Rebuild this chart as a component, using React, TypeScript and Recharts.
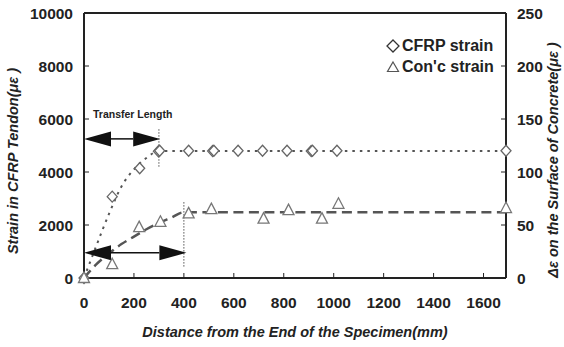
import { ComposedChart, Line, Scatter, XAxis, YAxis, ReferenceLine, Legend } from "recharts";

// distance from the end of the specimen (mm)
const distTicks = [0, 200, 400, 600, 800, 1000, 1200, 1400, 1600];
const strainTicks = [0, 2000, 4000, 6000, 8000, 10000];
const concTicks = [0, 50, 100, 150, 200, 250];

// measured points
const cfrpDist = [0, 113, 223, 298, 303, 419, 515, 520, 617, 715, 813, 910, 915, 1013, 1690];
const cfrpStrain = [0, 3070, 4140, 4780, 4800, 4800, 4790, 4800, 4800, 4800, 4800, 4790, 4800, 4800, 4800];

const concDist = [0, 113, 221, 306, 419, 510, 719, 819, 953, 1019, 1690];
const concStrain = [0, 13, 48, 53, 61, 65, 56, 64, 56, 70, 66];

// trend lines
const cfrpFitDist = [0, 50, 100, 150, 200, 250, 300, 1690];
const cfrpFitStrain = [0, 1230, 2420, 3450, 4100, 4530, 4790, 4790];
const concFitDist = [0, 50, 100, 150, 200, 250, 300, 350, 400, 1690];
const concFitStrain = [0, 13, 23, 32, 39, 46, 52, 57, 62, 62];

// transfer length annotations
const transferStrain = [5250, 950];
const transferEnd = [305, 410];
const transferMark = [300, 400];
const markLow = [4200, 430];
const markHigh = [5650, 2880];

const cfrp = cfrpDist.map((x, i) => ({ x, y: cfrpStrain[i] }));
const conc = concDist.map((x, i) => ({ x, y: concStrain[i] }));
const cfrpFit = cfrpFitDist.map((x, i) => ({ x, y: cfrpFitStrain[i] }));
const concFit = concFitDist.map((x, i) => ({ x, y: concFitStrain[i] }));

const FONT = "Arial, 'Liberation Sans', sans-serif";
const INK = "#222";
const tickStyle = { fontFamily: FONT, fontSize: 15.5, fontWeight: 700, fill: INK };

const Diamond = ({ cx, cy }: any) => (
  <polygon
    points={`${cx},${cy - 5.5} ${cx + 5},${cy} ${cx},${cy + 5.5} ${cx - 5},${cy}`}
    fill="#fff"
    stroke="#666"
    strokeWidth={1.3}
  />
);

const Triangle = ({ cx, cy }: any) => (
  <polygon
    points={`${cx},${cy - 6} ${cx + 5.5},${cy + 4.5} ${cx - 5.5},${cy + 4.5}`}
    fill="#fff"
    stroke="#777"
    strokeWidth={1.3}
  />
);

const Arrow = ({ x1, y1, x2, y2, title }: any) => {
  const L = 27;
  const H = 7.5;
  return (
    <g>
      <line x1={x1 + L} y1={y1} x2={x2 - L} y2={y2} stroke="#111" strokeWidth={1.5} />
      <polygon points={`${x1},${y1} ${x1 + L},${y1 - H} ${x1 + L},${y1 + H}`} fill="#111" />
      <polygon points={`${x2},${y2} ${x2 - L},${y2 - H} ${x2 - L},${y2 + H}`} fill="#111" />
      {title && (
        <text x={x1 + 9} y={y1 - 21} fontFamily={FONT} fontSize={10.5} fontWeight={700} fill={INK}>
          {title}
        </text>
      )}
    </g>
  );
};

const LegendBox = () => (
  <div style={{ fontFamily: FONT, fontSize: 16, fontWeight: 700, color: INK, lineHeight: "21px" }}>
    <div style={{ display: "flex", alignItems: "center" }}>
      <svg width={18} height={14}>
        <polygon points="9,1 15,7 9,13 3,7" fill="#fff" stroke="#333" strokeWidth={1.3} />
      </svg>
      <span>CFRP strain</span>
    </div>
    <div style={{ display: "flex", alignItems: "center" }}>
      <svg width={18} height={14}>
        <polygon points="9,2 14.5,11.5 3.5,11.5" fill="#fff" stroke="#555" strokeWidth={1.2} />
      </svg>
      <span>Con'c strain</span>
    </div>
  </div>
);

const titleStyle = { fontFamily: FONT, fontSize: 14.5, fontWeight: 700, fontStyle: "italic" as const, fill: INK };

export default function App() {
  return (
    <div style={{ position: "absolute", left: 0, top: 0, background: "#fff" }}>
      <ComposedChart width={564} height={347} margin={{ top: 13, right: 0, bottom: 0, left: 0 }}>
        <XAxis
          dataKey="x"
          type="number"
          domain={[0, 1690]}
          ticks={distTicks}
          interval={0}
          height={69}
          tick={tickStyle}
          tickSize={-5}
          tickMargin={24}
          axisLine={{ stroke: INK, strokeWidth: 2 }}
          tickLine={{ stroke: INK }}
          label={({ viewBox }: any) => (
            <text
              x={viewBox.x + viewBox.width / 2}
              y={332}
              textAnchor="middle"
              dominantBaseline="central"
              {...titleStyle}
            >
              Distance from the End of the Specimen(mm)
            </text>
          )}
        />
        <YAxis
          yAxisId="l"
          domain={[0, 10000]}
          ticks={strainTicks}
          interval={0}
          width={84}
          tick={tickStyle}
          tickSize={-5}
          tickMargin={16}
          axisLine={{ stroke: INK, strokeWidth: 2 }}
          tickLine={{ stroke: INK }}
          label={() => {
            const x = 13;
            const y = 161;
            return (
              <text x={x} y={y} transform={`rotate(-90 ${x} ${y})`} textAnchor="middle" dominantBaseline="central" {...titleStyle}>
                Strain in CFRP Tendon(με )
              </text>
            );
          }}
        />
        <YAxis
          yAxisId="r"
          orientation="right"
          domain={[0, 250]}
          ticks={concTicks}
          interval={0}
          width={58}
          tick={tickStyle}
          tickSize={-5}
          tickMargin={16}
          axisLine={{ stroke: INK, strokeWidth: 2 }}
          tickLine={{ stroke: INK }}
          label={() => {
            const x = 553;
            const y = 160;
            return (
              <text x={x} y={y} transform={`rotate(-90 ${x} ${y})`} textAnchor="middle" dominantBaseline="central" {...titleStyle}>
                Δε on the Surface of Concrete(με )
              </text>
            );
          }}
        />
        <ReferenceLine yAxisId="l" y={10000} stroke={INK} strokeWidth={2} />

        <ReferenceLine
          yAxisId="l"
          segment={[{ x: transferMark[0], y: markLow[0] }, { x: transferMark[0], y: markHigh[0] }]}
          stroke="#555"
          strokeWidth={1}
          strokeDasharray="1.5 1.5"
        />
        <ReferenceLine
          yAxisId="l"
          segment={[{ x: transferMark[1], y: markLow[1] }, { x: transferMark[1], y: markHigh[1] }]}
          stroke="#555"
          strokeWidth={1}
          strokeDasharray="1.5 1.5"
        />

        <Line
          yAxisId="l"
          data={cfrpFit}
          dataKey="y"
          type="monotone"
          stroke="#555"
          strokeWidth={2}
          strokeDasharray="2.5 5"
          dot={false}
          legendType="none"
          isAnimationActive={false}
        />
        <Line
          yAxisId="r"
          data={concFit}
          dataKey="y"
          type="monotone"
          stroke="#555"
          strokeWidth={2.5}
          strokeDasharray="10 5.5"
          dot={false}
          legendType="none"
          isAnimationActive={false}
        />

        <ReferenceLine
          yAxisId="l"
          segment={[{ x: 0, y: transferStrain[0] }, { x: transferEnd[0], y: transferStrain[0] }]}
          shape={(p: any) => <Arrow {...p} title="Transfer Length" />}
        />
        <ReferenceLine
          yAxisId="l"
          segment={[{ x: 0, y: transferStrain[1] }, { x: transferEnd[1], y: transferStrain[1] }]}
          shape={(p: any) => <Arrow {...p} />}
        />

        <Scatter yAxisId="l" name="CFRP strain" data={cfrp} dataKey="y" shape={Diamond} isAnimationActive={false} />
        <Scatter yAxisId="r" name="Con'c strain" data={conc} dataKey="y" shape={Triangle} isAnimationActive={false} />

        <Legend
          layout="vertical"
          align="center"
          verticalAlign="middle"
          content={() => <LegendBox />}
          wrapperStyle={{ top: 35, left: 384, width: 130 }}
        />
      </ComposedChart>
    </div>
  );
}
